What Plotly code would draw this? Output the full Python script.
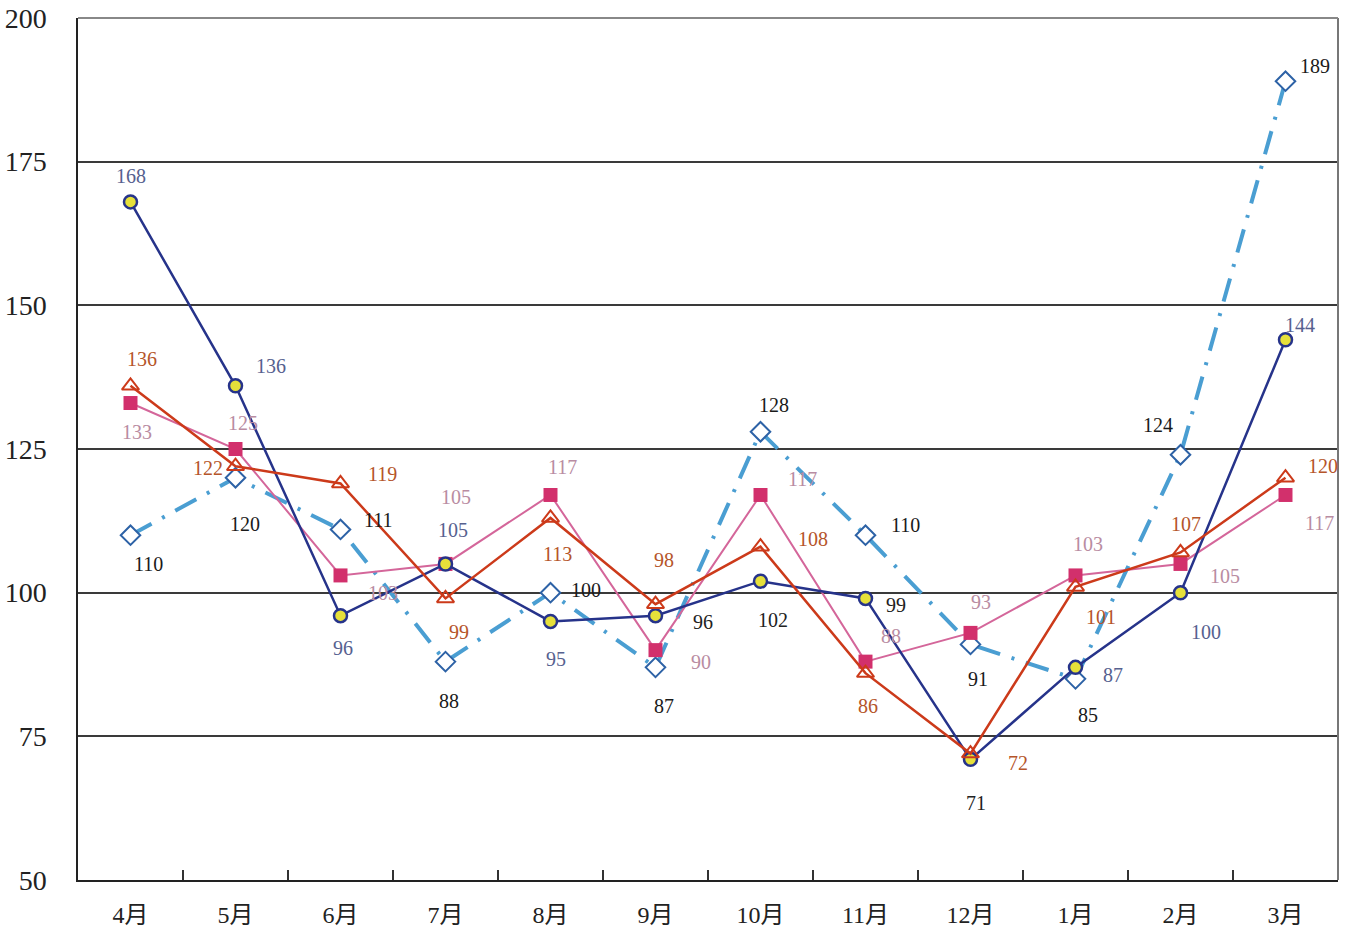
import plotly.graph_objects as go

months = ["4月", "5月", "6月", "7月", "8月", "9月", "10月", "11月", "12月", "1月", "2月", "3月"]
navy_vals = [168, 136, 96, 105, 95, 96, 102, 99, 71, 87, 100, 144]
red_vals = [136, 122, 119, 99, 113, 98, 108, 86, 72, 101, 107, 120]
pink_vals = [133, 125, 103, 105, 117, 90, 117, 88, 93, 103, 105, 117]
blue_vals = [110, 120, 111, 88, 100, 87, 128, 110, 91, 85, 124, 189]
y_ticks = [50, 75, 100, 125, 150, 175, 200]

# label offsets (pixels) - style only
navy_off = [(0, -26), (35, -20), (2, 32), (7, -34), (5, 38), (47, 6), (12, 39), (30, 7), (5, 44), (37, 8), (25, 39), (14, -15)]
red_off = [(11, -27), (-28, 2), (42, -9), (13, 34), (7, 36), (8, -44), (52, -8), (2, 33), (47, 9), (25, 30), (5, -28), (37, -12)]
pink_off = [(6, 29), (7, -26), (42, 18), (10, -67), (12, -28), (45, 12), (42, -16), (25, -26), (10, -31), (12, -31), (44, 12), (34, 28)]
blue_off = [(18, 29), (9, 46), (38, -9), (3, 39), (35, -3), (8, 39), (13, -27), (40, -10), (7, 35), (12, 36), (-23, -30), (29, -15)]
navy_lbl_col = ["#56618f", "#56618f", "#56618f", "#56618f", "#56618f", "#222222", "#222222", "#222222", "#222222", "#56618f", "#56618f", "#56618f"]

FONT = "Liberation Serif, Noto Sans CJK SC, serif"

fig = go.Figure()

fig.add_trace(go.Scatter(
    x=months, y=blue_vals, mode="lines+markers",
    line=dict(color="#4a9ed2", width=4, dash="24px,12px,3px,12px"),
    marker=dict(symbol="diamond", size=15, color="white", line=dict(color="#2d62a6", width=2)),
    showlegend=False))
fig.add_trace(go.Scatter(
    x=months, y=pink_vals, mode="lines+markers",
    line=dict(color="#d4669a", width=2),
    marker=dict(symbol="square", size=14, color="#d2306c", line=dict(width=0)),
    showlegend=False))
fig.add_trace(go.Scatter(
    x=months, y=navy_vals, mode="lines+markers",
    line=dict(color="#26338a", width=2.5),
    marker=dict(symbol="circle", size=13, color="#e6e03a", line=dict(color="#26338a", width=2.5)),
    showlegend=False))
fig.add_trace(go.Scatter(
    x=months, y=red_vals, mode="lines+markers",
    line=dict(color="#cc3a1a", width=2.5),
    marker=dict(symbol="triangle-up-open", size=15, color="#cc3a1a", line=dict(width=2)),
    showlegend=False))

def add_labels(vals, offs, colors):
    for i, (m, v) in enumerate(zip(months, vals)):
        c = colors[i] if isinstance(colors, list) else colors
        fig.add_annotation(x=m, y=v, text=str(v), showarrow=False,
                           xshift=offs[i][0], yshift=-offs[i][1],
                           font=dict(family=FONT, size=20, color=c))

add_labels(blue_vals, blue_off, "#1a1a1a")
add_labels(pink_vals, pink_off, "#b98ca2")
add_labels(navy_vals, navy_off, navy_lbl_col)
add_labels(red_vals, red_off, "#b5552a")

fig.update_layout(
    width=1348, height=936,
    margin=dict(l=78, r=10, t=18, b=56, autoexpand=False),
    paper_bgcolor="white", plot_bgcolor="white",
    font=dict(family=FONT, color="#222222"),
    xaxis=dict(type="category", categoryorder="array", categoryarray=months,
               range=[-0.5, len(months) - 0.5], automargin=False,
               showgrid=False, showline=True, linecolor="#222222", linewidth=2,
               mirror=False, ticks="inside", tickson="boundaries", ticklen=10,
               tickcolor="#333333", tickwidth=1.5, ticklabelstandoff=12,
               tickfont=dict(family=FONT, size=24, color="#222222")),
    yaxis=dict(range=[50, 200], tickvals=y_ticks, showgrid=True,
               automargin=False,
               gridcolor="#3a3a3a", gridwidth=1.5, zeroline=False,
               showline=True, linecolor="#222222", linewidth=1.5,
               ticks="", ticklabelstandoff=24,
               tickfont=dict(family=FONT, size=28, color="#222222")),
)
# right and top frame lines
fig.add_shape(type="line", xref="paper", yref="paper", x0=1, x1=1, y0=0, y1=1,
              line=dict(color="#777777", width=2))
fig.add_shape(type="line", xref="paper", yref="paper", x0=0, x1=1, y0=1, y1=1,
              line=dict(color="#888888", width=2))

fig.write_html("out.html", config={"displayModeBar": False},
               post_script="document.body.style.margin='0';document.body.style.overflow='hidden';")
